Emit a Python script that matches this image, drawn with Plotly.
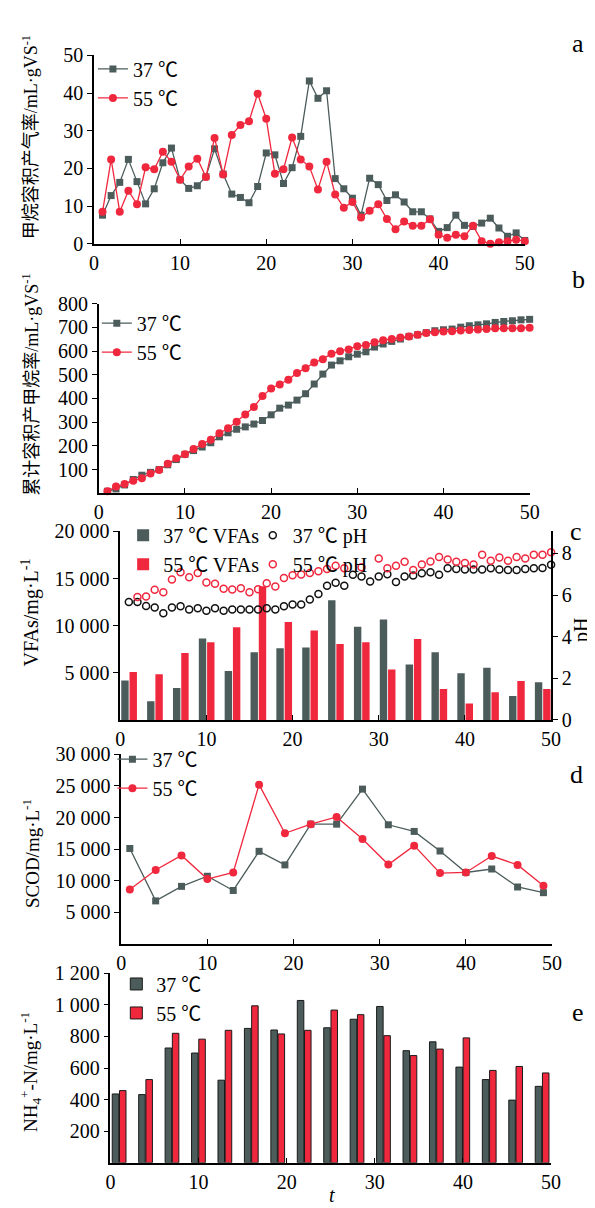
import plotly.graph_objects as go

# ---------------- data ----------------
days = list(range(1, 51))

rate_37 = [7.6, 12.8, 16.3, 22.4, 16.5, 10.6, 14.6, 21.5, 25.4, 17.0,
           14.7, 15.4, 17.8, 25.2, 18.5, 13.2, 12.3, 10.9, 15.2, 24.1,
           23.6, 16.0, 20.2, 28.5, 43.2, 38.6, 40.6, 17.3, 14.6, 12.1,
           7.6, 17.4, 15.7, 11.5, 13.0, 11.1, 8.5, 8.5, 6.6, 3.3,
           4.3, 7.6, 4.9, 4.6, 5.5, 6.8, 4.2, 2.0, 2.9, 0.9]
rate_55 = [8.5, 22.4, 8.5, 14.1, 10.5, 20.3, 19.8, 24.4, 21.8, 17.0,
           20.5, 22.6, 17.7, 28.1, 18.4, 28.9, 31.5, 32.5, 39.8, 33.2,
           18.6, 19.8, 28.2, 22.4, 20.5, 14.4, 21.8, 13.1, 9.6, 11.1,
           7.0, 8.8, 10.5, 6.6, 3.9, 5.9, 4.8, 4.8, 6.5, 2.4,
           1.6, 2.4, 2.0, 4.8, 0.7, 0.0, 0.4, 0.7, 1.1, 0.7]

cum_37 = [8, 18, 35, 58, 76, 88, 100, 120, 142, 164,
          180, 195, 213, 238, 255, 270, 280, 292, 307, 331,
          359, 372, 393, 420, 461, 503, 541, 559, 576, 587,
          597, 617, 630, 641, 651, 662, 669, 678, 686, 690,
          693, 701, 707, 711, 715, 721, 725, 728, 732, 734]
cum_55 = [8, 28, 39, 53, 63, 83, 98, 124, 148, 164,
          187, 208, 226, 253, 274, 302, 332, 364, 410, 442,
          459, 479, 508, 528, 552, 566, 589, 599, 607, 620,
          626, 637, 646, 651, 657, 662, 669, 676, 680, 683,
          684, 687, 689, 691, 693, 696, 696, 696, 696, 699]

sample_days = [1, 4, 7, 10, 13, 16, 19, 22, 25, 28, 31, 34, 37, 40, 43, 46, 49]

vfa_37 = [4200, 2000, 3400, 8650, 5200, 7200, 7600, 7700, 12700, 9900,
          10650, 5900, 7200, 4950, 5550, 2550, 4000]
vfa_55 = [5100, 4850, 7100, 8250, 9850, 14200, 10400, 9500, 8050, 8250,
          5350, 8600, 3300, 1750, 2950, 4150, 3300]

ph_days_37 = list(range(1, 51))
ph_37 = [5.66, 5.66, 5.47, 5.40, 5.12, 5.40, 5.46, 5.31, 5.36, 5.25,
         5.36, 5.25, 5.31, 5.31, 5.31, 5.31, 5.36, 5.31, 5.46, 5.55,
         5.55, 5.78, 6.05, 6.44, 6.59, 6.44, 6.97, 6.89, 6.65, 6.89,
         7.00, 6.62, 6.89, 6.94, 7.05, 7.09, 6.97, 7.28, 7.25, 7.22,
         7.22, 7.22, 7.28, 7.22, 7.20, 7.20, 7.25, 7.28, 7.30, 7.45]
ph_days_55 = [2, 3, 4, 5, 6, 7, 8, 9, 10, 11, 12, 13, 14, 15, 16, 17, 18, 19,
              20, 21, 22, 23, 24, 25, 26, 28, 30, 31, 32, 33, 34, 35, 36, 37,
              38, 39, 40, 41, 42, 43, 44, 45, 46, 47, 48, 49, 50]
ph_55 = [5.90, 5.93, 6.25, 6.13, 6.74, 7.09, 6.85, 7.06, 6.60, 6.54,
         6.30, 6.27, 6.32, 6.13, 6.28, 6.57, 6.41, 6.82, 6.95, 6.98,
         7.06, 7.14, 7.25, 7.41, 7.28, 7.33, 7.75, 7.28, 7.41, 7.60,
         7.20, 7.46, 7.61, 7.83, 7.71, 7.60, 7.54, 7.46, 7.93, 7.65,
         7.80, 7.65, 7.83, 7.75, 7.93, 7.93, 8.05]

scod_37 = [15100, 6800, 9100, 10700, 8450, 14650, 12500, 18950, 18950, 24500,
           18850, 17800, 14700, 11300, 11850, 9000, 8100]
scod_55 = [8600, 11700, 14000, 10250, 11300, 25200, 17500, 18950, 20100, 16600,
           12550, 15550, 11200, 11300, 13900, 12500, 9200]

nh4_37 = [436, 432, 727, 695, 523, 851, 841, 1028, 855, 909,
          990, 710, 766, 606, 527, 397, 484]
nh4_55 = [457, 527, 820, 783, 839, 994, 816, 839, 967, 938,
          805, 679, 720, 791, 585, 610, 569]

x_ticks = [0, 10, 20, 30, 40, 50]

# ---------------- style ----------------
W, H = 595, 1208
FONT = "Liberation Serif, Noto Sans CJK SC, serif"
GRAY = "#4b5c5b"
RED = "#f0283e"
LW = 1.3


def dx(a, b):
    return [a / W, b / W]


def dy(top, bottom):
    return [1 - bottom / H, 1 - top / H]


fig = go.Figure()

# panel a
fig.add_trace(go.Scatter(x=days, y=rate_37, name="37 ℃", mode="lines+markers",
                         line=dict(color=GRAY, width=LW), marker=dict(symbol="square", size=7, color=GRAY),
                         xaxis="x", yaxis="y", legend="legend", cliponaxis=False))
fig.add_trace(go.Scatter(x=days, y=rate_55, name="55 ℃", mode="lines+markers",
                         line=dict(color=RED, width=LW), marker=dict(symbol="circle", size=8, color=RED),
                         xaxis="x", yaxis="y", legend="legend", cliponaxis=False))
# panel b
fig.add_trace(go.Scatter(x=days, y=cum_37, name="37 ℃", mode="lines+markers",
                         line=dict(color=GRAY, width=LW), marker=dict(symbol="square", size=7, color=GRAY),
                         xaxis="x2", yaxis="y2", legend="legend2", cliponaxis=False))
fig.add_trace(go.Scatter(x=days, y=cum_55, name="55 ℃", mode="lines+markers",
                         line=dict(color=RED, width=LW), marker=dict(symbol="circle", size=8, color=RED),
                         xaxis="x2", yaxis="y2", legend="legend2", cliponaxis=False))
# panel c
fig.add_trace(go.Bar(x=sample_days, y=vfa_37, name="37 ℃ VFAs", marker=dict(color=GRAY, line=dict(width=0)),
                     width=0.86, offset=-0.88, xaxis="x3", yaxis="y3", legend="legend3"))
fig.add_trace(go.Bar(x=sample_days, y=vfa_55, name="55 ℃ VFAs", marker=dict(color=RED, line=dict(width=0)),
                     width=0.86, offset=0.08, xaxis="x3", yaxis="y3", legend="legend3"))
fig.add_trace(go.Scatter(x=ph_days_37, y=ph_37, name="37 ℃ pH", mode="markers",
                         marker=dict(symbol="circle-open", size=7, color="#111111", line=dict(width=1.5)),
                         xaxis="x3", yaxis="y4", legend="legend4", cliponaxis=False))
fig.add_trace(go.Scatter(x=ph_days_55, y=ph_55, name="55 ℃ pH", mode="markers",
                         marker=dict(symbol="circle-open", size=7, color=RED, line=dict(width=1.5)),
                         xaxis="x3", yaxis="y4", legend="legend4", cliponaxis=False))
# panel d
fig.add_trace(go.Scatter(x=sample_days, y=scod_37, name="37 ℃", mode="lines+markers",
                         line=dict(color=GRAY, width=LW), marker=dict(symbol="square", size=7, color=GRAY),
                         xaxis="x4", yaxis="y5", legend="legend5", cliponaxis=False))
fig.add_trace(go.Scatter(x=sample_days, y=scod_55, name="55 ℃", mode="lines+markers",
                         line=dict(color=RED, width=LW), marker=dict(symbol="circle", size=8, color=RED),
                         xaxis="x4", yaxis="y5", legend="legend5", cliponaxis=False))
# panel e
fig.add_trace(go.Bar(x=sample_days, y=nh4_37, name="37 ℃", marker=dict(color=GRAY, line=dict(width=1, color="#1a1a1a")),
                     width=0.74, offset=-0.8, xaxis="x5", yaxis="y6", legend="legend6"))
fig.add_trace(go.Bar(x=sample_days, y=nh4_55, name="55 ℃", marker=dict(color=RED, line=dict(width=1, color="#1a1a1a")),
                     width=0.74, offset=0.02, xaxis="x5", yaxis="y6", legend="legend6"))

tickfont = dict(size=20, color="black", family=FONT)
base = dict(showline=True, linecolor="black", linewidth=1.5, showgrid=False, zeroline=False,
            tickcolor="black", tickwidth=1.2, ticklen=5, tickfont=tickfont, fixedrange=True)


def xa(x0, x1, anchor):
    d = dict(base)
    d.update(domain=dx(x0, x1), anchor=anchor, range=[0, 50], tickvals=x_ticks, ticks="inside")
    return d


def ya(top, bottom, anchor, rng, tv, **kw):
    d = dict(base)
    d.update(domain=dy(top, bottom), anchor=anchor, range=rng, tickvals=tv, ticks="outside")
    d.update(kw)
    return d


leg_base = dict(bgcolor="rgba(0,0,0,0)", font=dict(size=20, color="black", family=FONT),
                xanchor="left", yanchor="top", tracegroupgap=0, itemwidth=30, borderwidth=0)


def leg(x, y, **kw):
    d = dict(leg_base)
    d.update(x=x / W, y=1 - y / H)
    d.update(kw)
    return d


fig.update_layout(
    width=W, height=H, margin=dict(l=0, r=0, t=0, b=0),
    paper_bgcolor="white", plot_bgcolor="white",
    font=dict(family=FONT, color="black"),
    separators=". ",
    barmode="overlay",
    xaxis=xa(83, 525, "y"),
    yaxis=ya(37, 229, "x", [0, 50], [0, 10, 20, 30, 40, 50]),
    xaxis2=xa(88, 530, "y2"),
    yaxis2=ya(290, 483, "x2", [0, 800], [100, 200, 300, 400, 500, 600, 700, 800]),
    xaxis3=xa(110, 552, "y3"),
    yaxis3=ya(522, 714, "x3", [0, 20000], [5000, 10000, 15000, 20000], tickformat=",d"),
    yaxis4=ya(522, 714, "x3", [0, 9.05], [0, 2, 4, 6, 8], overlaying="y3", side="right"),
    xaxis4=xa(111, 553, "y5"),
    yaxis5=ya(749, 942, "x4", [0, 30000], [5000, 10000, 15000, 20000, 25000, 30000], tickformat=",d"),
    xaxis5=xa(100, 552, "y6"),
    yaxis6=ya(972, 1165, "x5", [0, 1200], [200, 400, 600, 800, 1000, 1200], tickformat=",d"),
    legend=leg(82, 31),
    legend2=leg(86, 290),
    legend3=leg(113, 506),
    legend4=leg(246, 506),
    legend5=leg(102, 734),
    legend6=leg(106, 963),
    showlegend=True,
)

ann = []
ytitle_font = dict(size=18, color="black", family=FONT)
ann.append(dict(text="甲烷容积产气率/mL·gVS<sup>-1</sup>", x=18 / W, y=1 - 120 / H, textangle=-90, font=ytitle_font))
ann.append(dict(text="累计容积产甲烷率/mL·gVS<sup>-1</sup>", x=18 / W, y=1 - 372 / H, textangle=-90, font=ytitle_font))
ann.append(dict(text="VFAs/mg·L<sup>-1</sup>", x=18 / W, y=1 - 605 / H, textangle=-90, font=dict(size=20, color="black", family=FONT)))
ann.append(dict(text="SCOD/mg·L<sup>-1</sup>", x=18 / W, y=1 - 850 / H, textangle=-90, font=dict(size=19, color="black", family=FONT)))
ann.append(dict(text="NH<sub>4</sub><sup>+</sup>-N/mg·L<sup>-1</sup>", x=18 / W, y=1 - 1073 / H, textangle=-90, font=dict(size=19, color="black", family=FONT)))
ann.append(dict(text="pH", x=583 / W, y=1 - 622 / H, textangle=-90, font=dict(size=20, color="black", family=FONT)))
ann.append(dict(text="<i>t</i>", x=327 / W, y=1 - 1198 / H, font=dict(size=20, color="black", family=FONT)))
for letter, lx, ly in [("a", 580, 25), ("b", 580, 265), ("c", 578, 522), ("d", 578, 770), ("e", 580, 1012)]:
    ann.append(dict(text=letter, x=lx / W, y=1 - ly / H, font=dict(size=26, color="black", family=FONT)))
for a in ann:
    a.update(xref="paper", yref="paper", showarrow=False, xanchor="center", yanchor="middle")
fig.update_layout(annotations=ann)

fig.write_html("out.html")
